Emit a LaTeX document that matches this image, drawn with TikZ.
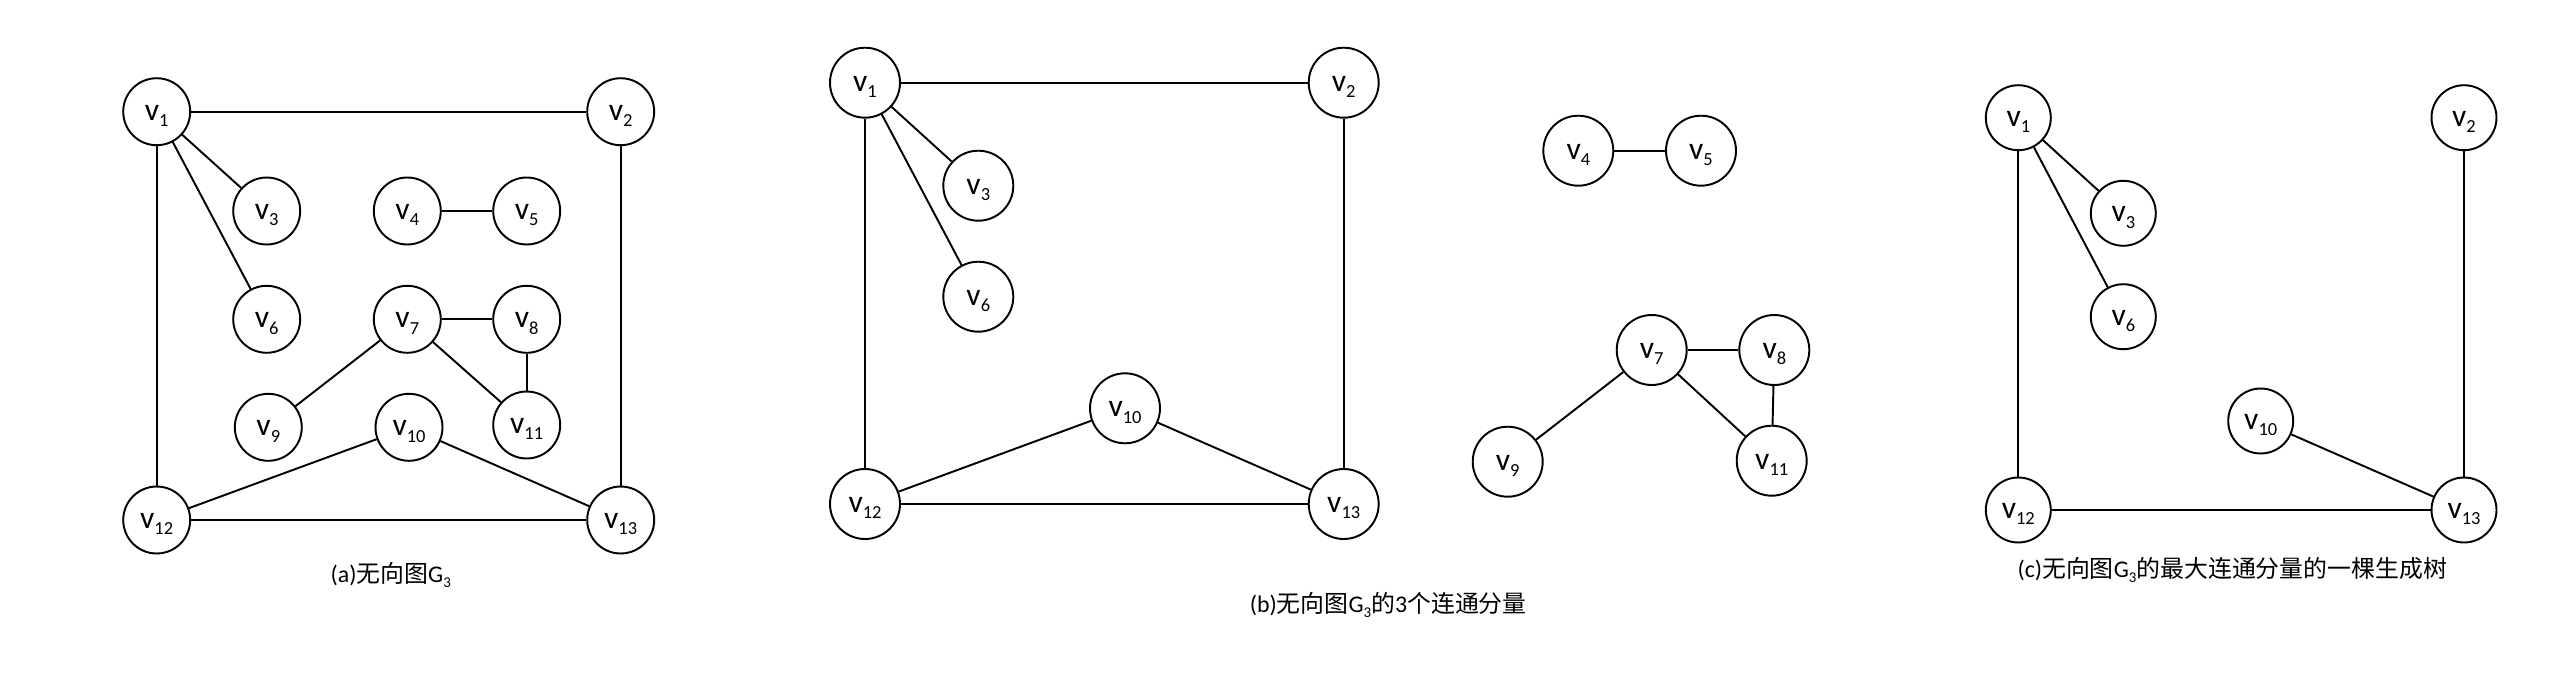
\documentclass[tikz,border=0pt]{standalone}
\usepackage{fontspec}
\setmainfont{Carlito}
\newfontfamily\cjk{Noto Sans CJK SC}
\newcommand{\vsub}[1]{v\raisebox{-0.2em}{\fontsize{10.5}{10.5}\selectfont #1}}
\newcommand{\gsub}{G\raisebox{-0.2em}{\fontsize{8.5}{8.5}\selectfont 3}}
\begin{document}
\begin{tikzpicture}[x=0.02cm,y=-0.02cm,line width=1.1pt,
  vert/.style={circle,draw,inner sep=0pt,minimum size=1.34cm,
    text height=9.8pt,text depth=0pt,font=\fontsize{18}{18}\selectfont},
  vertb/.style={vert,minimum size=1.40cm},
  vertc/.style={vert,minimum size=1.30cm},
  captext/.style={inner sep=0pt,font=\fontsize{13.6}{16}\selectfont}]
\useasboundingbox (0,0) rectangle (2560,693);
% panel (a)
\node[vert] (a1) at (156.7,111.7) {\vsub{1}};
\node[vert] (a2) at (620.7,111.7) {\vsub{2}};
\node[vert] (a3) at (266.7,211) {\vsub{3}};
\node[vert] (a4) at (407.3,211) {\vsub{4}};
\node[vert] (a5) at (526.7,211) {\vsub{5}};
\node[vert] (a6) at (266.7,319.3) {\vsub{6}};
\node[vert] (a7) at (407.3,319.3) {\vsub{7}};
\node[vert] (a8) at (526.7,319.3) {\vsub{8}};
\node[vert] (a9) at (268.3,427.3) {\vsub{9}};
\node[vert] (a10) at (409,427.3) {\vsub{10}};
\node[vert] (a11) at (526.7,425) {\vsub{11}};
\node[vert] (a12) at (156.7,520) {\vsub{12}};
\node[vert] (a13) at (620.7,520) {\vsub{13}};
\draw (a1) -- (a2);
\draw (a1) -- (a3);
\draw (a1) -- (a6);
\draw (a1) -- (a12);
\draw (a2) -- (a13);
\draw (a4) -- (a5);
\draw (a7) -- (a8);
\draw (a7) -- (a9);
\draw (a7) -- (a11);
\draw (a8) -- (a11);
\draw (a10) -- (a12);
\draw (a10) -- (a13);
\draw (a12) -- (a13);
\node[captext] (capa) at (390.7,575) {(a){\cjk 无向图}\gsub};
% panel (b)
\node[vertb] (b1) at (865,82.7) {\vsub{1}};
\node[vertb] (b2) at (1343.7,82.7) {\vsub{2}};
\node[vertb] (b3) at (978.3,185.7) {\vsub{3}};
\node[vertb] (b6) at (978.3,296.7) {\vsub{6}};
\node[vertb] (b10) at (1125,408.3) {\vsub{10}};
\node[vertb] (b12) at (865,504) {\vsub{12}};
\node[vertb] (b13) at (1343.7,504) {\vsub{13}};
\node[vertb] (b4) at (1578.3,150.7) {\vsub{4}};
\node[vertb] (b5) at (1701,150.7) {\vsub{5}};
\node[vertb] (b7) at (1651.7,350) {\vsub{7}};
\node[vertb] (b8) at (1774.3,350) {\vsub{8}};
\node[vertb] (b9) at (1507.7,461.7) {\vsub{9}};
\node[vertb] (b11) at (1771.7,460.7) {\vsub{11}};
\draw (b1) -- (b2);
\draw (b1) -- (b3);
\draw (b1) -- (b6);
\draw (b1) -- (b12);
\draw (b2) -- (b13);
\draw (b10) -- (b12);
\draw (b10) -- (b13);
\draw (b12) -- (b13);
\draw (b4) -- (b5);
\draw (b7) -- (b8);
\draw (b7) -- (b9);
\draw (b7) -- (b11);
\draw (b8) -- (b11);
\node[captext] (capb) at (1388.3,605) {(b){\cjk 无向图}\gsub{\cjk 的}3{\cjk 个连通分量}};
% panel (c)
\node[vertc] (c1) at (2018.3,117.7) {\vsub{1}};
\node[vertc] (c2) at (2464,117.7) {\vsub{2}};
\node[vertc] (c3) at (2123.3,213.3) {\vsub{3}};
\node[vertc] (c6) at (2123.3,316.7) {\vsub{6}};
\node[vertc] (c10) at (2260.7,421) {\vsub{10}};
\node[vertc] (c12) at (2018.3,510) {\vsub{12}};
\node[vertc] (c13) at (2464,510) {\vsub{13}};
\draw (c1) -- (c3);
\draw (c1) -- (c6);
\draw (c1) -- (c12);
\draw (c2) -- (c13);
\draw (c10) -- (c13);
\draw (c12) -- (c13);
\node[captext] (capc) at (2232.3,570) {(c){\cjk 无向图}\gsub{\cjk 的最大连通分量的一棵生成树}};
\end{tikzpicture}
\end{document}
